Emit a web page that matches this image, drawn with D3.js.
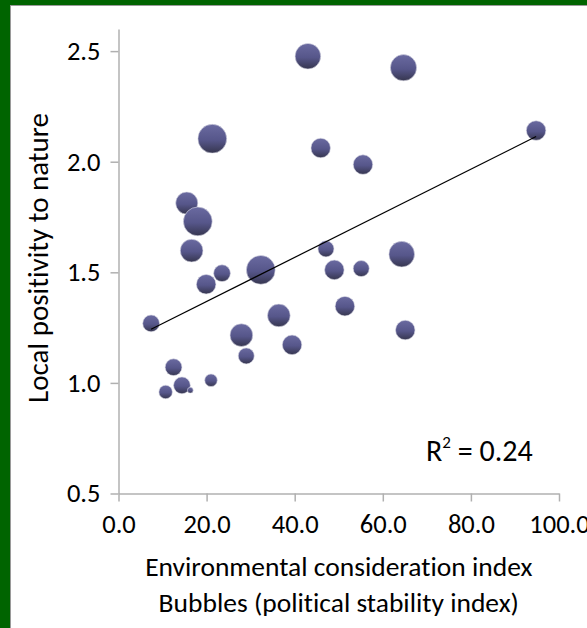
<!DOCTYPE html>
<html>
<head>
<meta charset="utf-8">
<script src="https://cdn.jsdelivr.net/npm/d3@7"></script>
<style>
  html, body { margin: 0; padding: 0; background: #006400; overflow: hidden; }
  svg { display: block; }
  text { font-family: Carlito, Lato, "Open Sans", sans-serif; fill: #000; font-variant-ligatures: none; }
</style>
</head>
<body>
<svg id="chart" width="587" height="628"></svg>
<script>
// Environmental consideration index (x), local positivity to nature (y),
// political stability index (bubble size)
const envIndex = [43.0, 64.7, 21.3, 45.9, 94.8, 55.5, 15.5, 18.0, 16.6, 47.1, 32.3, 23.5, 19.9, 49.0,
                  55.1, 64.3, 51.4, 7.4, 36.4, 27.9, 29.0, 39.4, 65.1, 12.5, 14.4, 16.3, 10.7, 21.0];
const positivity = [2.477, 2.425, 2.104, 2.062, 2.141, 1.987, 1.813, 1.730, 1.598, 1.606, 1.511, 1.496, 1.446, 1.511,
                    1.517, 1.582, 1.347, 1.269, 1.305, 1.216, 1.122, 1.172, 1.239, 1.071, 0.989, 0.967, 0.959, 1.012];
const stability = [79, 83, 100, 46, 46, 46, 59, 100, 62, 31, 100, 34, 46, 46,
                   31, 79, 46, 34, 62, 62, 31, 46, 46, 34, 34, 4, 22, 19];

const xTicks = [0, 20, 40, 60, 80, 100];
const yTicks = [0.5, 1.0, 1.5, 2.0, 2.5];
const xTitle = "Environmental consideration index";
const sizeTitle = "Bubbles (political stability index)";
const yTitle = "Local positivity to nature";

const svg = d3.select("#chart");

// white chart panel inside the green frame
svg.append("rect")
  .attr("x", 10.5).attr("y", 5.5)
  .attr("width", 600).attr("height", 640)
  .attr("fill", "#fff").attr("stroke", "#9a9a9a").attr("stroke-width", 1);

const plot = { left: 118.5, right: 559, top: 29, bottom: 493.5 };

const x = d3.scaleLinear().domain([0, 100]).range([plot.left, plot.right]);
const y = d3.scaleLinear().domain([0.5, 2.6]).range([plot.bottom, plot.top]);
const r = d3.scaleSqrt().domain([0, d3.max(stability)]).range([0, 14.4]);

const axisColor = "#b0b0b0";
const tickFont = 26.5;

// x axis
const gx = svg.append("g")
  .attr("transform", `translate(0,${plot.bottom})`)
  .call(d3.axisBottom(x).tickValues(xTicks).tickFormat(d3.format(".1f"))
        .tickSize(8).tickSizeOuter(0).tickPadding(13));
// y axis
const gy = svg.append("g")
  .attr("transform", `translate(${plot.left},0)`)
  .call(d3.axisLeft(y).tickValues(yTicks).tickFormat(d3.format(".1f"))
        .tickSize(8).tickSizeOuter(0).tickPadding(10));

[gx, gy].forEach(g => {
  g.select(".domain").attr("stroke", axisColor).attr("stroke-width", 1.5);
  g.selectAll(".tick line").attr("stroke", axisColor).attr("stroke-width", 1.5);
  g.selectAll(".tick text").attr("font-size", tickFont).attr("fill", "#000")
    .style("font-family", "Carlito, Lato, sans-serif");
});

// bubble shading
const defs = svg.append("defs");
const grad = defs.append("linearGradient")
  .attr("id", "bubbleFill").attr("x1", 0).attr("y1", 0).attr("x2", 0).attr("y2", 1);
grad.append("stop").attr("offset", "0%").attr("stop-color", "#6a6aa0");
grad.append("stop").attr("offset", "55%").attr("stop-color", "#56568a");
grad.append("stop").attr("offset", "100%").attr("stop-color", "#36364f");

const points = envIndex.map((v, i) => ({ x: v, y: positivity[i], s: stability[i] }));

svg.append("g").selectAll("circle")
  .data(points)
  .join("circle")
  .attr("cx", d => x(d.x))
  .attr("cy", d => y(d.y))
  .attr("r", d => r(d.s))
  .attr("fill", "url(#bubbleFill)")
  .attr("stroke", "#d8d8e4").attr("stroke-width", 0.6);

// least-squares linear trend line across the data range
const mx = d3.mean(envIndex), my = d3.mean(positivity);
let sxy = 0, sxx = 0, syy = 0;
points.forEach(p => {
  sxy += (p.x - mx) * (p.y - my);
  sxx += (p.x - mx) ** 2;
  syy += (p.y - my) ** 2;
});
const slope = sxy / sxx, intercept = my - slope * mx;
const r2 = (sxy * sxy) / (sxx * syy);
const [x0, x1] = d3.extent(envIndex);

svg.append("line")
  .attr("x1", x(x0)).attr("y1", y(intercept + slope * x0))
  .attr("x2", x(x1)).attr("y2", y(intercept + slope * x1))
  .attr("stroke", "#000").attr("stroke-width", 1.2);

// R² annotation
const rt = svg.append("text")
  .attr("x", 426).attr("y", 461)
  .attr("font-size", 30);
rt.append("tspan").text("R");
rt.append("tspan").attr("font-size", 17).attr("dy", -13).text("2");
rt.append("tspan").attr("dy", 13).text(" = " + r2.toFixed(2));

// axis titles
const midX = (plot.left + plot.right) / 2;
svg.append("text")
  .attr("x", midX).attr("y", 576)
  .attr("text-anchor", "middle").attr("font-size", 27.5)
  .text(xTitle);
svg.append("text")
  .attr("x", midX).attr("y", 612)
  .attr("text-anchor", "middle").attr("font-size", 27.5)
  .text(sizeTitle);
svg.append("text")
  .attr("transform", `translate(48,258) rotate(-90)`)
  .attr("text-anchor", "middle").attr("font-size", 29)
  .text(yTitle);
</script>
</body>
</html>
